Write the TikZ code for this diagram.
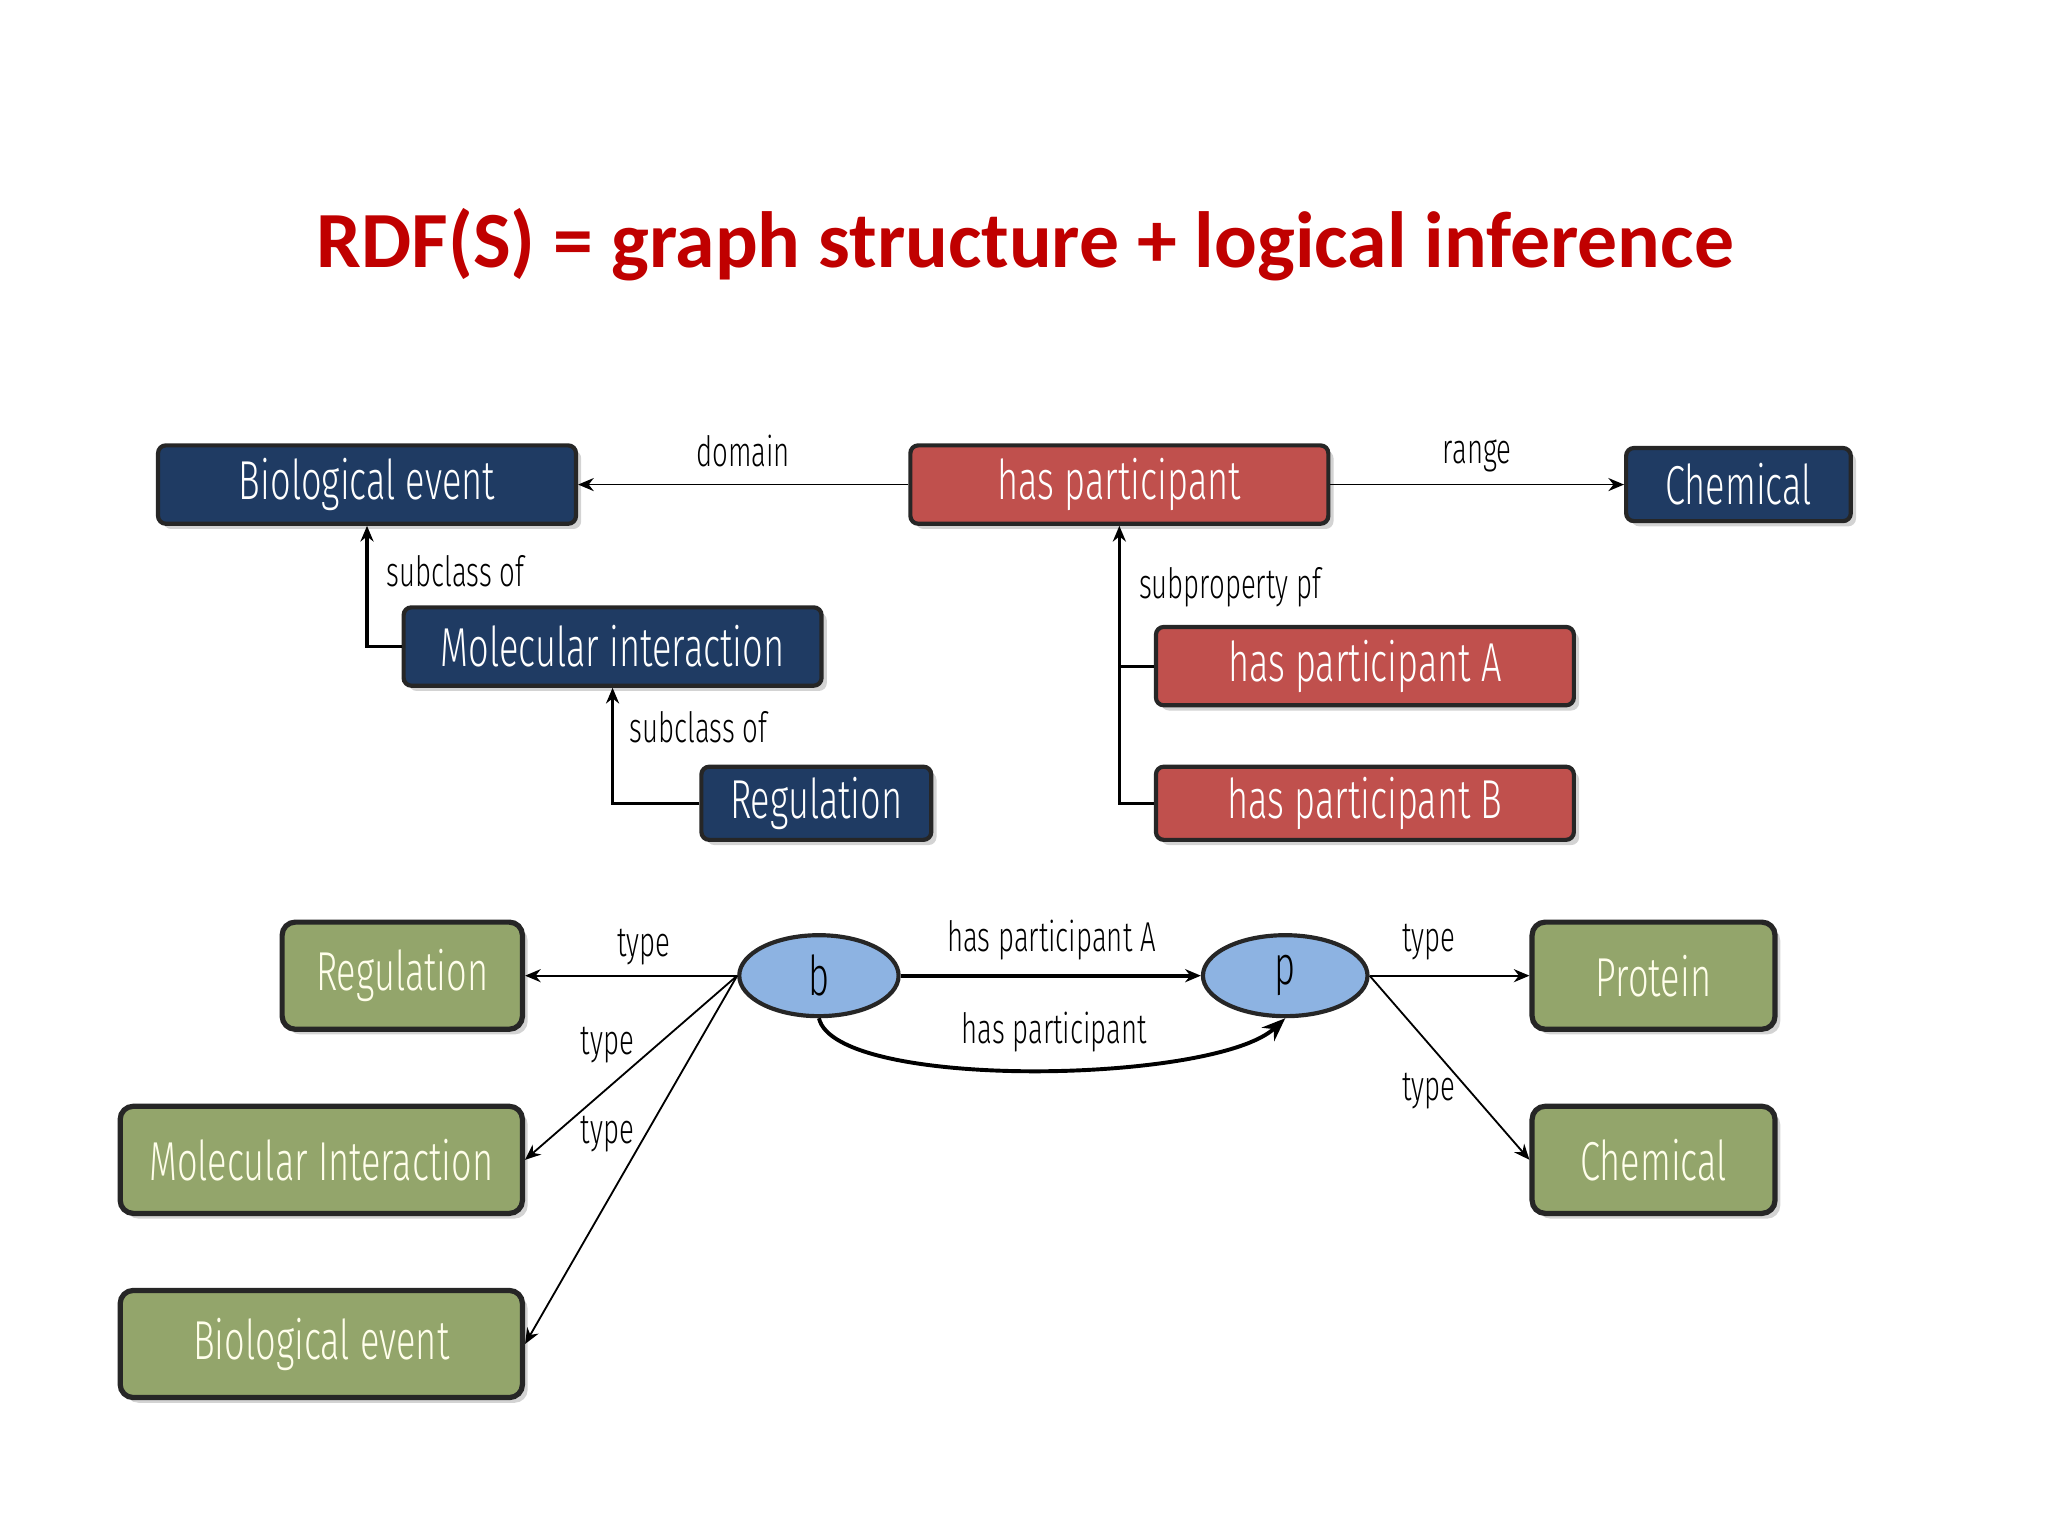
\documentclass[tikz,border=0pt]{standalone}
\usepackage{fontspec}
\setmainfont{Fira Sans Light}[FakeStretch=0.66]
\newfontfamily\titlefont{Carlito}
\usetikzlibrary{arrows.meta,shadows,shapes.geometric}
\definecolor{navy}{HTML}{1F3B63}
\definecolor{rred}{HTML}{C0504D}
\definecolor{ggreen}{HTML}{93A56B}
\definecolor{lblue}{HTML}{8DB3E2}
\definecolor{titlered}{HTML}{C00000}
\begin{document}
\begin{tikzpicture}[x=0.5pt,y=-0.5pt,
  box/.style={draw=black!85,line width=1.6pt,rounded corners=3pt,text=white,font=\fontsize{21}{24}\selectfont,drop shadow={shadow xshift=2pt,shadow yshift=-2pt,opacity=0.35},inner sep=0pt},
  bl/.style={box,fill=navy},
  rd/.style={box,fill=rred},
  gr/.style={box,fill=ggreen,text=white!92!yellow,line width=2pt,rounded corners=5pt},
  el/.style={ellipse,draw=black!85,line width=1.6pt,fill=lblue,font=\fontsize{21}{24}\selectfont,minimum width=61pt,minimum height=31pt,inner sep=0pt},
  lab/.style={font=\fontsize{16}{19}\selectfont,text=black},
  ar/.style={-{Stealth[length=6pt,width=5pt]},line width=0.7pt},
  th/.style={-{Stealth[length=6pt,width=5pt]},line width=1.5pt}]
\useasboundingbox (0,0) rectangle (1568,1176);
\node[font=\titlefont\bfseries\fontsize{30.5}{36}\selectfont,text=titlered] (title) at (785,187) {RDF(S) = graph structure + logical inference};
% top
\node[bl,minimum width=160pt,minimum height=30pt] (be) at (281,371) {Biological event};
\node[rd,minimum width=160pt,minimum height=30pt] (hp) at (857,371) {has participant};
\node[bl,minimum width=86pt,minimum height=28pt] (ch) at (1331,371) {Chemical};
\node[bl,minimum width=160pt,minimum height=30pt] (mi) at (469,495) {Molecular interaction};
\node[bl,minimum width=88pt,minimum height=28pt] (rg) at (625,615) {Regulation};
\node[rd,minimum width=160pt,minimum height=30pt] (hpa) at (1045,510) {has participant A};
\node[rd,minimum width=160pt,minimum height=28pt] (hpb) at (1045,615) {has participant B};
\draw[ar] (hp.west) -- node[lab,above=3pt] {domain} (be.east);
\draw[ar] (hp.east) -- node[lab,above=1pt] {range} (ch.west);
\draw[ar,line width=1.2pt] (mi.west) -| (be.south);
\node[lab,anchor=west] (l1) at (289,437) {subclass of};
\draw[ar,line width=1.2pt] (rg.west) -| (mi.south);
\node[lab,anchor=west] (l2) at (475,557) {subclass of};
\draw[ar,line width=1.2pt] (hpa.west) -| (hp.south);
\draw[line width=1.2pt] (hpb.west) -| (hpa.west -| hp.south);
\node[lab,anchor=west] (l3) at (865,450) {subproperty pf};
% bottom
\node[gr,minimum width=92pt,minimum height=41pt] (g1) at (308,747) {Regulation};
\node[gr,minimum width=154pt,minimum height=41pt] (g2) at (246,888) {Molecular Interaction};
\node[gr,minimum width=154pt,minimum height=41pt] (g3) at (246,1029) {Biological event};
\node[el] (b) at (627,747) {b};
\node[el,minimum width=63pt] (p) at (984,747) {p};
\node[gr,minimum width=93pt,minimum height=41pt] (g4) at (1266,747) {Protein};
\node[gr,minimum width=93pt,minimum height=41pt] (g5) at (1266,888) {Chemical};
\draw[ar] (b.west) -- (g1.east);
\node[lab] (t1) at (493,725) {type};
\draw[ar] (b.west) -- (g2.east);
\node[lab] (t2) at (465,800) {type};
\draw[ar] (b.west) -- (g3.east);
\node[lab] (t3) at (465,868) {type};
\draw[th] (b.east) -- (p.west);
\node[lab] (t4) at (805,720) {has participant A};
\draw[th,-{Stealth[length=9pt,width=7pt]}] (b.south) .. controls (640,835) and (930,830) .. (p.south);
\node[lab] (t5) at (807,790) {has participant};
\draw[ar] (p.east) -- (g4.west);
\node[lab] (t6) at (1094,721) {type};
\draw[ar] (p.east) -- (g5.west);
\node[lab] (t7) at (1094,835) {type};
\end{tikzpicture}
\end{document}
